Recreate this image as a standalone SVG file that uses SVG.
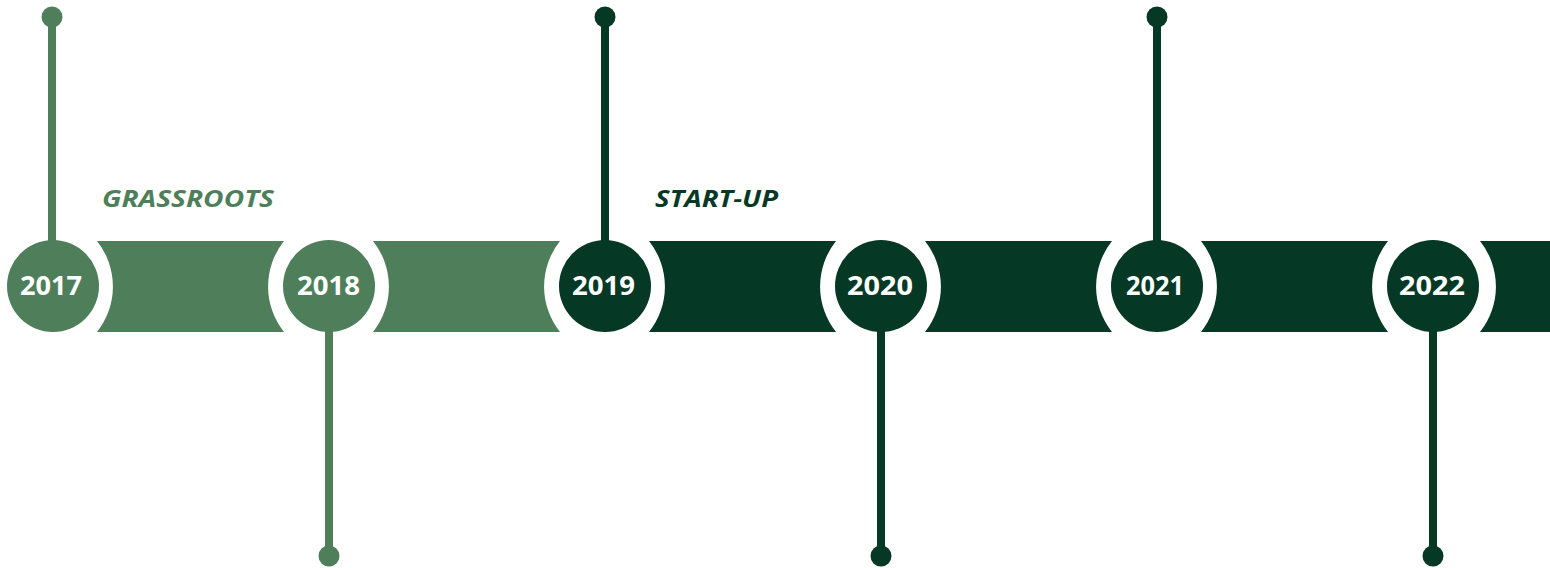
<svg xmlns="http://www.w3.org/2000/svg" width="1550" height="568" viewBox="0 0 1550 568">
<style>
.lg{fill:#4e7f5a}
.dg{fill:#063826}
.sl{stroke:#4e7f5a;stroke-width:8}
.sd{stroke:#063826;stroke-width:8}
.yr{font-family:"Open Sans","DejaVu Sans",sans-serif;font-weight:700;font-size:26px;fill:#fff;text-anchor:middle}
.ph{font-family:"Open Sans","DejaVu Sans",sans-serif;font-weight:700;font-style:italic;font-size:24px}
</style>
<rect width="1550" height="568" fill="#fff"/>
<g id="connectors">
<line class="sl" x1="52" y1="17" x2="52" y2="245"/>
<circle class="lg" cx="52" cy="17" r="10.5"/>
<line class="sl" x1="329" y1="328" x2="329" y2="556"/>
<circle class="lg" cx="329" cy="556" r="10.5"/>
<line class="sd" x1="605" y1="17" x2="605" y2="245"/>
<circle class="dg" cx="605" cy="17" r="10.5"/>
<line class="sd" x1="881" y1="328" x2="881" y2="556"/>
<circle class="dg" cx="881" cy="556" r="10.5"/>
<line class="sd" x1="1157" y1="17" x2="1157" y2="245"/>
<circle class="dg" cx="1157" cy="17" r="10.5"/>
<line class="sd" x1="1433" y1="328" x2="1433" y2="556"/>
<circle class="dg" cx="1433" cy="556" r="10.5"/>
</g>
<g id="bars">
<path class="lg" d="M97,241 L284,241 A73,73 0 0 0 284,332 L97,332 A73,73 0 0 0 97,241 Z"/>
<path class="lg" d="M373,241 L560,241 A73,73 0 0 0 560,332 L373,332 A73,73 0 0 0 373,241 Z"/>
<path class="dg" d="M649,241 L836,241 A73,73 0 0 0 836,332 L649,332 A73,73 0 0 0 649,241 Z"/>
<path class="dg" d="M925,241 L1112,241 A73,73 0 0 0 1112,332 L925,332 A73,73 0 0 0 925,241 Z"/>
<path class="dg" d="M1201,241 L1388,241 A73,73 0 0 0 1388,332 L1201,332 A73,73 0 0 0 1201,241 Z"/>
<path class="dg" d="M1480,241 L1560,241 L1560,332 L1480,332 A73,73 0 0 0 1480,241 Z"/>
</g>
<g id="n2017"><circle class="lg" cx="53" cy="286" r="46"/><text class="yr" x="51" y="295" textLength="62" lengthAdjust="spacingAndGlyphs">2017</text></g>
<g id="n2018"><circle class="lg" cx="329" cy="286" r="46"/><text class="yr" x="328.5" y="295" textLength="63" lengthAdjust="spacingAndGlyphs">2018</text></g>
<g id="n2019"><circle class="dg" cx="605" cy="286" r="46"/><text class="yr" x="603.5" y="295" textLength="63" lengthAdjust="spacingAndGlyphs">2019</text></g>
<g id="n2020"><circle class="dg" cx="881" cy="286" r="46"/><text class="yr" x="880" y="295" textLength="66" lengthAdjust="spacingAndGlyphs">2020</text></g>
<g id="n2021"><circle class="dg" cx="1157" cy="286" r="46"/><text class="yr" x="1155" y="295" textLength="58" lengthAdjust="spacingAndGlyphs">2021</text></g>
<g id="n2022"><circle class="dg" cx="1433" cy="286" r="46"/><text class="yr" x="1432" y="295" textLength="66" lengthAdjust="spacingAndGlyphs">2022</text></g>
<g id="labels">
<text class="ph lg" x="102" y="207" textLength="172" lengthAdjust="spacingAndGlyphs">GRASSROOTS</text>
<text class="ph dg" x="655" y="207" textLength="123" lengthAdjust="spacingAndGlyphs">START-UP</text>
</g>
</svg>
